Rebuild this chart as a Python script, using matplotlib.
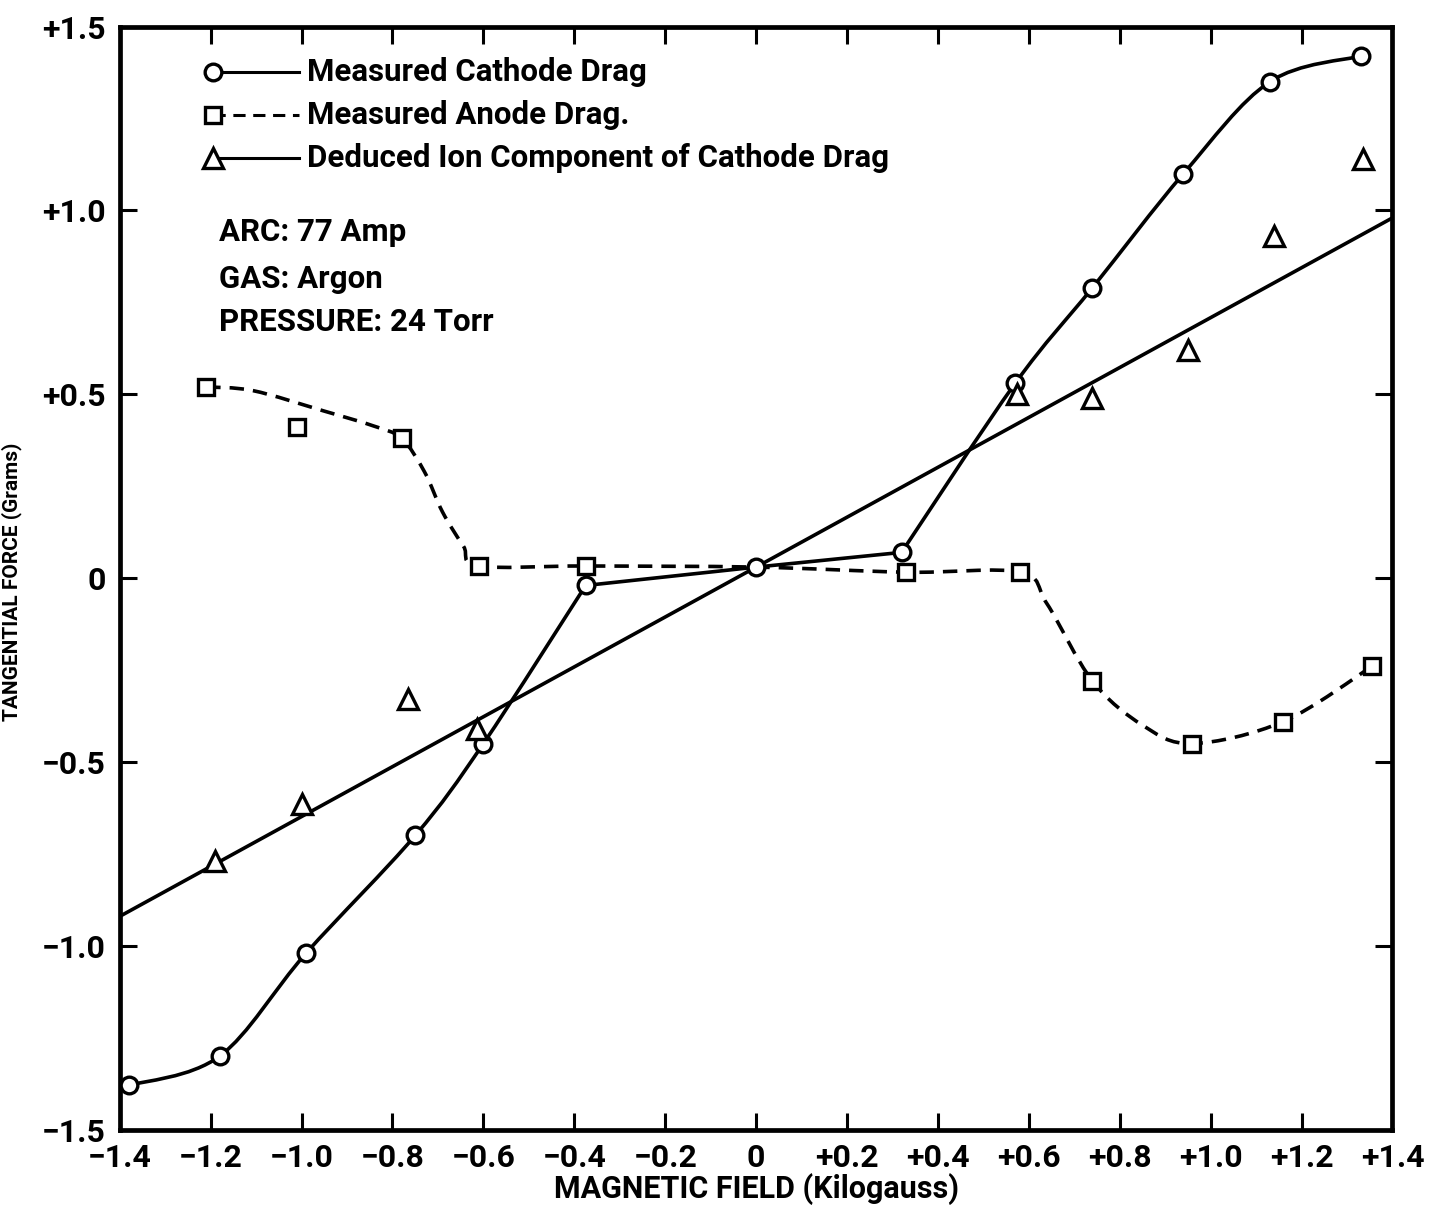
import matplotlib
matplotlib.use("Agg")
import matplotlib.pyplot as plt
import numpy as np
from matplotlib.path import Path
from matplotlib.patches import PathPatch

plt.rcParams['font.family'] = ['Roboto', 'DejaVu Sans']
plt.rcParams['font.weight'] = 'bold'

# measured cathode drag (circles)
cath_x = [-1.38, -1.18, -0.99, -0.75, -0.60, -0.375, 0.0, 0.32, 0.57, 0.74, 0.94, 1.13, 1.33]
cath_y = [-1.38, -1.30, -1.02, -0.70, -0.45, -0.02, 0.03, 0.07, 0.53, 0.79, 1.10, 1.35, 1.42]

# measured anode drag (squares)
anode_x = [-1.21, -1.01, -0.78, -0.61, -0.375, 0.33, 0.58, 0.74, 0.96, 1.16, 1.355]
anode_y = [0.52, 0.41, 0.38, 0.033, 0.033, 0.016, 0.016, -0.28, -0.45, -0.39, -0.24]

# faired anode curve
anode_fit_x = [-1.21, -1.107, -0.952, -0.842, -0.78, -0.73, -0.69, -0.644, -0.61,
               -0.375, 0.0, 0.33, 0.58, 0.64, 0.74, 0.85, 0.96, 1.16, 1.355]
anode_fit_y = [0.52, 0.51, 0.455, 0.414, 0.38, 0.29, 0.18, 0.087, 0.033,
               0.033, 0.03, 0.016, 0.016, -0.07, -0.28, -0.40, -0.45, -0.39, -0.24]

# deduced ion component (triangles) and straight-line fit
ion_x = [-1.19, -1.0, -0.765, -0.615, 0.573, 0.74, 0.95, 1.14, 1.335]
ion_y = [-0.77, -0.615, -0.33, -0.41, 0.50, 0.49, 0.62, 0.93, 1.14]
ion_fit_x = [-1.4, 1.4]
ion_fit_y = [-0.92, 0.98]

xticks = [-1.4, -1.2, -1.0, -0.8, -0.6, -0.4, -0.2, 0, 0.2, 0.4, 0.6, 0.8, 1.0, 1.2, 1.4]
xticklabels = ['\u22121.4', '\u22121.2', '\u22121.0', '\u22120.8', '\u22120.6', '\u22120.4', '\u22120.2',
               '0', '+0.2', '+0.4', '+0.6', '+0.8', '+1.0', '+1.2', '+1.4']
yticks = [-1.5, -1.0, -0.5, 0, 0.5, 1.0, 1.5]
yticklabels = ['\u22121.5', '\u22121.0', '\u22120.5', '0', '+0.5', '+1.0', '+1.5']


def smooth(xs, ys):
    # Catmull-Rom spline through the knots, as cubic Bezier segments
    p = np.column_stack([xs, ys]).astype(float)
    n = len(p)
    verts = [p[0]]
    codes = [Path.MOVETO]
    for i in range(n - 1):
        p0 = p[i - 1] if i > 0 else p[i]
        p1, p2 = p[i], p[i + 1]
        p3 = p[i + 2] if i + 2 < n else p[i + 1]
        verts += [p1 + (p2 - p0) / 6, p2 - (p3 - p1) / 6, p2]
        codes += [Path.CURVE4] * 3
    return Path(verts, codes)


fig = plt.figure(figsize=(14.43, 12.12), dpi=100)
ax = fig.add_axes([0.083, 0.068, 0.882, 0.91])
ax.set_xlim(-1.4, 1.4)
ax.set_ylim(-1.5, 1.5)

lw = 2.6
# cathode curve: smooth on the wings, straight across the middle
ax.add_patch(PathPatch(smooth(cath_x[:6], cath_y[:6]), fill=False, lw=lw, color='black'))
ax.plot(cath_x[5:8], cath_y[5:8], '-', color='black', lw=lw)
ax.add_patch(PathPatch(smooth(cath_x[7:], cath_y[7:]), fill=False, lw=lw, color='black'))

ax.add_patch(PathPatch(smooth(anode_fit_x, anode_fit_y), fill=False, lw=lw, color='black',
                       linestyle=(0, (4, 2.5))))
ax.plot(ion_fit_x, ion_fit_y, '-', color='black', lw=lw)

mk = dict(mfc='white', mec='black', mew=2.4, ls='none', zorder=5)
ax.plot(cath_x, cath_y, 'o', ms=12, **mk)
ax.plot(anode_x, anode_y, 's', ms=12, **mk)
ax.plot(ion_x, ion_y, '^', ms=15, **mk)

# key, drawn with the marker at the left end of each sample line
rows = [(0.959, 'o', '-', 'Measured Cathode Drag'),
        (0.920, 's', (0, (4, 2.5)), 'Measured Anode Drag.'),
        (0.881, '^', '-', 'Deduced Ion Component of Cathode Drag')]
for yy, m, ls, label in rows:
    ax.plot([0.073, 0.141], [yy, yy], color='black', lw=2.2, ls=ls, transform=ax.transAxes)
    ax.plot([0.073], [yy], m, ms=12 if m != '^' else 14, transform=ax.transAxes, **mk)
    ax.text(0.147, yy, label, transform=ax.transAxes, fontsize=22.5, fontweight='bold',
            va='center', ha='left')

for yy, s in [(0.814, 'ARC: 77 Amp'), (0.7715, 'GAS: Argon'), (0.732, 'PRESSURE: 24 Torr')]:
    ax.text(0.078, yy, s, transform=ax.transAxes, fontsize=22.5, fontweight='bold',
            va='center', ha='left')

for sp in ax.spines.values():
    sp.set_linewidth(3.4)

ax.set_xticks(xticks)
ax.set_xticklabels(xticklabels)
ax.set_yticks(yticks)
ax.set_yticklabels(yticklabels)
ax.tick_params(direction='in', length=12, width=2.2, top=True, right=True,
               labelsize=23, pad=10)
for t in ax.get_xticklabels() + ax.get_yticklabels():
    t.set_fontweight('bold')

ax.set_xlabel('MAGNETIC FIELD (Kilogauss)', fontsize=22, fontweight='bold', labelpad=0)
fig.text(0.008, 0.52, 'TANGENTIAL FORCE (Grams)', rotation=90, fontsize=15,
         fontweight='bold', ha='center', va='center')

fig.savefig('out.png', dpi=100)
